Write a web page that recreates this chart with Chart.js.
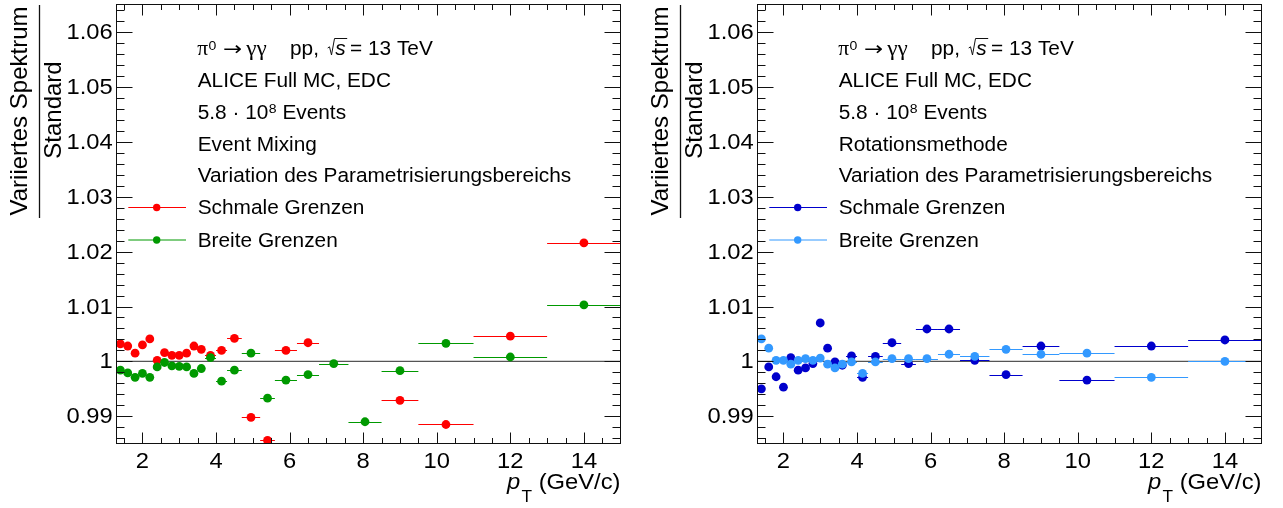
<!DOCTYPE html>
<html>
<head>
<meta charset="utf-8">
<script src="https://cdn.jsdelivr.net/npm/chart.js@4.4.0/dist/chart.umd.min.js"></script>
<style>
  html, body { margin: 0; padding: 0; background: #fff; }
  #wrap { position: relative; width: 1283px; height: 508px; overflow: hidden; background: #fff; }
  canvas { position: absolute; top: 0; }
</style>
</head>
<body>
<div id="wrap">
  <canvas id="panelEM" width="641" height="508" style="left:0px"></canvas>
  <canvas id="panelRot" width="642" height="508" style="left:641px"></canvas>
</div>
<script>
// pT bin edges (GeV/c)
const binLow  = [1.3, 1.5, 1.7, 1.9, 2.1, 2.3, 2.5, 2.7, 2.9, 3.1, 3.3, 3.5, 3.7, 4.0, 4.3, 4.7, 5.2, 5.6, 6.2, 6.8, 7.6, 8.5, 9.5, 11, 13];
const binHigh = [1.5, 1.7, 1.9, 2.1, 2.3, 2.5, 2.7, 2.9, 3.1, 3.3, 3.5, 3.7, 4.0, 4.3, 4.7, 5.2, 5.6, 6.2, 6.8, 7.6, 8.5, 9.5, 11, 13, 15];

// Ratio varied / standard spectrum, event mixing background
const emNarrow = [1.0032, 1.0028, 1.0015, 1.0030, 1.0041, 1.0002, 1.0016, 1.0011, 1.0011, 1.0015, 1.0028, 1.0022, 1.0011, 1.0020, 1.0042, 0.9898, 0.9856, 1.0020, 1.0034, null, null, 0.9929, 0.9885, 1.0046, 1.0216];
const emWide   = [0.9984, 0.9979, 0.9971, 0.9978, 0.9971, 0.9990, 0.9998, 0.9992, 0.9991, 0.9990, 0.9978, 0.9987, 1.0007, 0.9964, 0.9984, 1.0015, 0.9933, 0.9966, 0.9976, 0.9996, 0.9890, 0.9983, 1.0033, 1.0008, 1.0103];

// Ratio varied / standard spectrum, rotation background
const rotNarrow = [0.9950, 0.9990, 0.9972, 0.9953, 1.0007, 0.9984, 0.9988, 0.9996, 1.0070, 1.0024, 0.9999, 0.9993, 1.0010, 0.9971, 1.0009, 1.0034, 0.9996, 1.0059, 1.0059, 1.0002, 0.9976, 1.0028, 0.9966, 1.0028, 1.0039];
const rotWide   = [1.0041, 1.0024, 1.0002, 1.0002, 0.9995, 1.0002, 1.0005, 1.0002, 1.0006, 0.9995, 0.9988, 0.9995, 0.9999, 0.9978, 0.9999, 1.0005, 1.0005, 1.0005, 1.0013, 1.0009, 1.0022, 1.0013, 1.0015, 0.9971, 1.0000];

// Axis tick labels
const xTickValues = [2, 4, 6, 8, 10, 12, 14];
const xTickLabels = ['2', '4', '6', '8', '10', '12', '14'];
const yTickValues = [0.99, 1.00, 1.01, 1.02, 1.03, 1.04, 1.05, 1.06];
const yTickLabels = ['0.99', '1', '1.01', '1.02', '1.03', '1.04', '1.05', '1.06'];

const SANS  = '"Liberation Sans", Arial, Helvetica, sans-serif';
const SERIF = '"Liberation Serif", "DejaVu Serif", "Times New Roman", serif';
const SX = 1.08;   // horizontal text stretch of the Helvetica-style labels

// draws a string and returns its advance width
function txt(ctx, s, x, y, font, align, base, sx) {
  const k = sx === undefined ? SX : sx;
  ctx.save();
  ctx.font = font;
  ctx.textAlign = align || 'left';
  ctx.textBaseline = base || 'alphabetic';
  const w = ctx.measureText(s).width * k;
  ctx.translate(x, y);
  ctx.scale(k, 1);
  ctx.fillText(s, 0, 0);
  ctx.restore();
  return w;
}

function points(values) {
  const out = [];
  values.forEach((v, i) => {
    if (v === null) return;
    out.push({ x: (binLow[i] + binHigh[i]) / 2, y: v, lo: binLow[i], hi: binHigh[i] });
  });
  return out;
}

function rootStyle(panel) {
  return {
    id: 'rootStyle',
    beforeDatasetsDraw(chart) {
      const { ctx, chartArea: ca, scales: { x, y } } = chart;
      ctx.save();
      ctx.beginPath();
      ctx.rect(ca.left, ca.top, ca.right - ca.left, ca.bottom - ca.top);
      ctx.clip();
      // reference line at ratio = 1
      const y1 = y.getPixelForValue(1);
      ctx.strokeStyle = '#555';
      ctx.lineWidth = 1.4;
      ctx.beginPath();
      ctx.moveTo(ca.left, y1);
      ctx.lineTo(ca.right, y1);
      ctx.stroke();
      // horizontal bars showing the bin widths
      chart.data.datasets.forEach(ds => {
        ctx.strokeStyle = ds.backgroundColor;
        ctx.lineWidth = 1;
        ds.data.forEach(p => {
          const py = Math.round(y.getPixelForValue(p.y)) + 0.5;
          ctx.beginPath();
          ctx.moveTo(x.getPixelForValue(p.lo), py);
          ctx.lineTo(x.getPixelForValue(p.hi), py);
          ctx.stroke();
        });
      });
      ctx.restore();
    },
    afterDatasetsDraw(chart) {
      const { ctx, chartArea: ca, scales: { x, y } } = chart;
      const L = Math.floor(ca.left) + 0.5, R = Math.floor(ca.right) + 0.5;
      const T = Math.floor(ca.top) + 0.5, B = Math.floor(ca.bottom) + 0.5;
      ctx.save();
      ctx.strokeStyle = '#111';
      ctx.lineWidth = 1;
      ctx.strokeRect(L, T, R - L, B - T);

      // y ticks on both sides
      ctx.beginPath();
      for (let k = 493; k <= 532; k++) {
        const v = k * 0.002;
        const len = (k % 5 === 0) ? 16 : 8;
        const py = Math.round(y.getPixelForValue(v)) + 0.5;
        ctx.moveTo(L, py); ctx.lineTo(L + len, py);
        ctx.moveTo(R, py); ctx.lineTo(R - len, py);
      }
      // x ticks on both sides
      for (let k = 3; k <= 29; k++) {
        const v = k * 0.5;
        const len = (k % 4 === 0) ? 11 : 5.5;
        const px = Math.round(x.getPixelForValue(v)) + 0.5;
        ctx.moveTo(px, B); ctx.lineTo(px, B - len);
        ctx.moveTo(px, T); ctx.lineTo(px, T + len);
      }
      ctx.stroke();

      ctx.fillStyle = '#000';
      const tickFont = '22px ' + SANS;
      yTickValues.forEach((v, i) => {
        txt(ctx, yTickLabels[i], ca.left - 4, y.getPixelForValue(v) + 1, tickFont, 'right', 'middle');
      });
      xTickValues.forEach((v, i) => {
        txt(ctx, xTickLabels[i], x.getPixelForValue(v), 468, tickFont, 'center', 'alphabetic');
      });

      // x-axis title
      txt(ctx, 'p', 507, 489, 'italic 22px ' + SANS, 'left');
      txt(ctx, 'T', 521.5, 501.5, '16px ' + SANS, 'left');
      txt(ctx, '(GeV/c)', 620.5, 489, '22px ' + SANS, 'right');

      // y-axis title as a fraction
      ctx.save();
      ctx.font = '24px ' + SANS;
      ctx.textAlign = 'center';
      ctx.textBaseline = 'alphabetic';
      ctx.translate(27, 111);
      ctx.rotate(-Math.PI / 2);
      ctx.fillText('Variiertes Spektrum', 0, 0);
      ctx.restore();
      ctx.save();
      ctx.font = '24px ' + SANS;
      ctx.textAlign = 'center';
      ctx.translate(61, 110);
      ctx.rotate(-Math.PI / 2);
      ctx.fillText('Standard', 0, 0);
      ctx.restore();
      ctx.beginPath();
      ctx.lineWidth = 1.3;
      ctx.moveTo(39.5, 5); ctx.lineTo(39.5, 218);
      ctx.stroke();

      // header text block
      const f = '19.3px ' + SANS;
      const fg = '21.5px ' + SERIF;
      const tx = 197.7;
      // line 1: pi0 -> gamma gamma, pp, sqrt(s) = 13 TeV
      txt(ctx, 'π', tx - 0.5, 55, fg, 'left', 'alphabetic', 1.0);
      txt(ctx, '0', tx + 10.8, 49.5, '13px ' + SANS);
      txt(ctx, '→', tx + 25.2, 55, '19px "DejaVu Sans", sans-serif', 'left', 'alphabetic', 1.2);
      txt(ctx, 'γγ', tx + 48.5, 55, fg, 'left', 'alphabetic', 1.08);
      txt(ctx, 'pp,', tx + 92.3, 55, f);
      ctx.beginPath();
      ctx.lineWidth = 1;
      ctx.moveTo(tx + 130, 48); ctx.lineTo(tx + 131.8, 46.8);
      ctx.lineTo(tx + 133.8, 55); ctx.lineTo(tx + 136.8, 38.5);
      ctx.lineTo(tx + 149.5, 38.5);
      ctx.stroke();
      txt(ctx, 's', tx + 137.5, 55, 'italic 19.3px ' + SANS);
      txt(ctx, '= 13 TeV', tx + 152.3, 55, f);
      // line 2
      txt(ctx, 'ALICE Full MC, EDC', tx, 86.8, f);
      // line 3: 5.8 x 10^8 Events
      let cx = tx;
      cx += txt(ctx, '5.8 · 10', cx, 119, f);
      cx += txt(ctx, '8', cx + 0.5, 112.5, '13px ' + SANS) + 0.5;
      txt(ctx, ' Events', cx, 119, f);
      // lines 4 and 5
      txt(ctx, panel.method, tx, 150.5, f);
      txt(ctx, 'Variation des Parametrisierungsbereichs', tx, 182, f);

      // legend
      const legY = [207.5, 240];
      chart.data.datasets.forEach((ds, i) => {
        const ly = legY[i];
        ctx.strokeStyle = ds.backgroundColor;
        ctx.lineWidth = 1;
        ctx.beginPath();
        ctx.moveTo(128.3, ly); ctx.lineTo(186, ly);
        ctx.stroke();
        ctx.fillStyle = ds.backgroundColor;
        ctx.beginPath();
        ctx.arc(156.7, ly, 3.7, 0, Math.PI * 2);
        ctx.fill();
        ctx.fillStyle = '#000';
        txt(ctx, ds.label, tx, ly + 6.8, f);
      });
      ctx.restore();
    }
  };
}

function makeChart(id, panel) {
  const canvas = document.getElementById(id);
  return new Chart(canvas, {
    type: 'scatter',
    data: {
      datasets: [
        { label: 'Schmale Grenzen', data: points(panel.narrow), backgroundColor: panel.colors[0], order: 2 },
        { label: 'Breite Grenzen',  data: points(panel.wide),   backgroundColor: panel.colors[1], order: 1 }
      ]
    },
    options: {
      responsive: false,
      animation: false,
      devicePixelRatio: 1,
      layout: { padding: { left: 116.7, top: 4.7, right: canvas.width - 620.7, bottom: 508 - 443.7 } },
      elements: { point: { radius: 4.4, hoverRadius: 4.4, borderWidth: 0 } },
      scales: {
        x: { type: 'linear', min: 1.3, max: 15, display: false },
        y: { type: 'linear', min: 0.985, max: 1.065, display: false }
      },
      plugins: { legend: { display: false }, tooltip: { enabled: false } },
      events: []
    },
    plugins: [rootStyle(panel)]
  });
}

makeChart('panelEM',  { method: 'Event Mixing',     narrow: emNarrow,  wide: emWide,  colors: ['#ff0000', '#009900'] });
makeChart('panelRot', { method: 'Rotationsmethode', narrow: rotNarrow, wide: rotWide, colors: ['#0000cc', '#3399ff'] });
</script>
</body>
</html>
